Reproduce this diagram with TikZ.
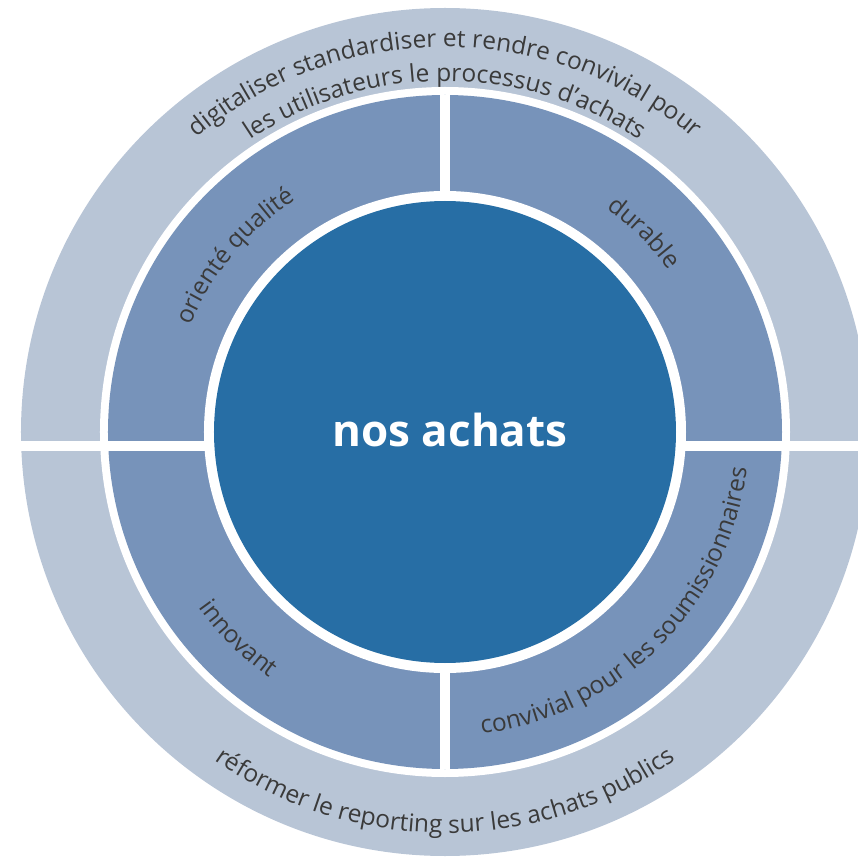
\documentclass[tikz,border=0pt]{standalone}
\usepackage{fontspec}
\setmainfont{Open Sans}
\usetikzlibrary{decorations.text}
\definecolor{ringout}{RGB}{184,197,214}
\definecolor{ringmid}{RGB}{119,147,186}
\definecolor{core}{RGB}{39,110,165}
\definecolor{txt}{RGB}{58,58,58}
\newcommand{\arcfont}{\fontsize{24.5pt}{24.5pt}\selectfont}
\begin{document}
\begin{tikzpicture}[x=1pt,y=1pt,
  curved/.style={decorate, decoration={text along path, text align=center, text color=txt}}]
\useasboundingbox (-445,-430) rectangle (413,432);
% rings
\fill[ringout] (0,0) circle[radius=424];
\fill[white] (0,0) circle[radius=345];
\fill[ringmid] (0,0) circle[radius=337];
\fill[white] (0,0) circle[radius=241];
\fill[white] (-5,-337) rectangle (5,337);
\fill[white] (-430,-19.5) rectangle (430,-9.5);
\fill[core] (0,0) circle[radius=231];
% centre
\node[anchor=base, text=white, font=\bfseries\fontsize{44pt}{44pt}\selectfont] (title) at (5,-15) {nos achats};
% outer ring texts
\path[curved, decoration={text={|\arcfont|digitaliser standardiser et rendre convivial pour}}]
  (180:385) arc[start angle=180, end angle=0, radius=385];
\path[curved, decoration={text={|\arcfont|les utilisateurs le processus d’achats}}]
  (180:351) arc[start angle=180, end angle=0, radius=351];
\path[curved, decoration={text={|\arcfont|réformer le reporting sur les achats publics}}]
  (180:401) arc[start angle=180, end angle=360, radius=401];
% middle ring texts
\path[curved, decoration={text={|\arcfont|orienté qualité}}]
  (185:276) arc[start angle=185, end angle=95, radius=276];
\path[curved, decoration={text={|\arcfont|durable}}]
  (90:276) arc[start angle=90, end angle=0, radius=276];
\path[curved, decoration={text={|\arcfont|innovant}}]
  (180:302) arc[start angle=180, end angle=270, radius=302];
\path[curved, decoration={text={|\arcfont|convivial pour les soumissionnaires}}]
  (270:304) arc[start angle=270, end angle=360, radius=304];
\end{tikzpicture}
\end{document}
